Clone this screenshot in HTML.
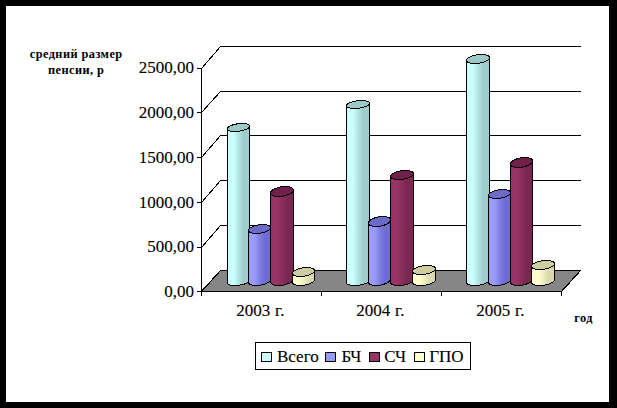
<!DOCTYPE html>
<html><head><meta charset="utf-8"><style>
html,body{margin:0;padding:0;width:617px;height:408px;overflow:hidden;background:#000}
.n{font-family:"Liberation Serif",serif;font-size:17px;fill:#000;stroke:#000;stroke-width:0.12px}
.b{font-family:"Liberation Serif",serif;font-size:12.3px;font-weight:bold;fill:#000;letter-spacing:0.45px}
</style></head><body>
<svg width="617" height="408" viewBox="0 0 617 408" style="position:absolute;left:0;top:0" shape-rendering="crispEdges">
<defs><linearGradient id="g00" gradientUnits="userSpaceOnUse" x1="227.5" y1="0" x2="249.5" y2="0"><stop offset="0" stop-color="#CCFFFF"/><stop offset="0.28" stop-color="#CCFFFF"/><stop offset="0.5" stop-color="#B3E6E6"/><stop offset="0.72" stop-color="#9FCDCD"/><stop offset="1" stop-color="#9FCDCD"/></linearGradient><linearGradient id="g01" gradientUnits="userSpaceOnUse" x1="248.5" y1="0" x2="270.5" y2="0"><stop offset="0" stop-color="#9999FF"/><stop offset="0.28" stop-color="#9999FF"/><stop offset="0.5" stop-color="#8080E4"/><stop offset="0.72" stop-color="#6E6ECF"/><stop offset="1" stop-color="#6E6ECF"/></linearGradient><linearGradient id="g02" gradientUnits="userSpaceOnUse" x1="270.5" y1="0" x2="293.5" y2="0"><stop offset="0" stop-color="#993366"/><stop offset="0.28" stop-color="#993366"/><stop offset="0.5" stop-color="#87305C"/><stop offset="0.72" stop-color="#7A2852"/><stop offset="1" stop-color="#7A2852"/></linearGradient><linearGradient id="g03" gradientUnits="userSpaceOnUse" x1="292.5" y1="0" x2="314.5" y2="0"><stop offset="0" stop-color="#FFFFCC"/><stop offset="0.28" stop-color="#FFFFCC"/><stop offset="0.5" stop-color="#EEEEC0"/><stop offset="0.72" stop-color="#DADAAE"/><stop offset="1" stop-color="#DADAAE"/></linearGradient><linearGradient id="g10" gradientUnits="userSpaceOnUse" x1="346.5" y1="0" x2="369.5" y2="0"><stop offset="0" stop-color="#CCFFFF"/><stop offset="0.28" stop-color="#CCFFFF"/><stop offset="0.5" stop-color="#B3E6E6"/><stop offset="0.72" stop-color="#9FCDCD"/><stop offset="1" stop-color="#9FCDCD"/></linearGradient><linearGradient id="g11" gradientUnits="userSpaceOnUse" x1="368.5" y1="0" x2="390.5" y2="0"><stop offset="0" stop-color="#9999FF"/><stop offset="0.28" stop-color="#9999FF"/><stop offset="0.5" stop-color="#8080E4"/><stop offset="0.72" stop-color="#6E6ECF"/><stop offset="1" stop-color="#6E6ECF"/></linearGradient><linearGradient id="g12" gradientUnits="userSpaceOnUse" x1="390.5" y1="0" x2="413.5" y2="0"><stop offset="0" stop-color="#993366"/><stop offset="0.28" stop-color="#993366"/><stop offset="0.5" stop-color="#87305C"/><stop offset="0.72" stop-color="#7A2852"/><stop offset="1" stop-color="#7A2852"/></linearGradient><linearGradient id="g13" gradientUnits="userSpaceOnUse" x1="412.5" y1="0" x2="435.5" y2="0"><stop offset="0" stop-color="#FFFFCC"/><stop offset="0.28" stop-color="#FFFFCC"/><stop offset="0.5" stop-color="#EEEEC0"/><stop offset="0.72" stop-color="#DADAAE"/><stop offset="1" stop-color="#DADAAE"/></linearGradient><linearGradient id="g20" gradientUnits="userSpaceOnUse" x1="466.5" y1="0" x2="489.5" y2="0"><stop offset="0" stop-color="#CCFFFF"/><stop offset="0.28" stop-color="#CCFFFF"/><stop offset="0.5" stop-color="#B3E6E6"/><stop offset="0.72" stop-color="#9FCDCD"/><stop offset="1" stop-color="#9FCDCD"/></linearGradient><linearGradient id="g21" gradientUnits="userSpaceOnUse" x1="488.5" y1="0" x2="510.5" y2="0"><stop offset="0" stop-color="#9999FF"/><stop offset="0.28" stop-color="#9999FF"/><stop offset="0.5" stop-color="#8080E4"/><stop offset="0.72" stop-color="#6E6ECF"/><stop offset="1" stop-color="#6E6ECF"/></linearGradient><linearGradient id="g22" gradientUnits="userSpaceOnUse" x1="510.5" y1="0" x2="532.5" y2="0"><stop offset="0" stop-color="#993366"/><stop offset="0.28" stop-color="#993366"/><stop offset="0.5" stop-color="#87305C"/><stop offset="0.72" stop-color="#7A2852"/><stop offset="1" stop-color="#7A2852"/></linearGradient><linearGradient id="g23" gradientUnits="userSpaceOnUse" x1="531.5" y1="0" x2="554.5" y2="0"><stop offset="0" stop-color="#FFFFCC"/><stop offset="0.28" stop-color="#FFFFCC"/><stop offset="0.5" stop-color="#EEEEC0"/><stop offset="0.72" stop-color="#DADAAE"/><stop offset="1" stop-color="#DADAAE"/></linearGradient></defs>
<rect x="0" y="0" width="617" height="408" fill="#000"/>
<rect x="6" y="6" width="603" height="396" fill="#fff"/>
<polyline points="197,68.5 201.5,68.5 220.5,46.5 581,46.5" fill="none" stroke="#000" stroke-width="1"/><polyline points="197,112.5 201.5,112.5 220.5,91.5 581,91.5" fill="none" stroke="#000" stroke-width="1"/><polyline points="197,157.5 201.5,157.5 220.5,135.5 581,135.5" fill="none" stroke="#000" stroke-width="1"/><polyline points="197,202.5 201.5,202.5 220.5,180.5 581,180.5" fill="none" stroke="#000" stroke-width="1"/><polyline points="197,247.5 201.5,247.5 220.5,225.5 581,225.5" fill="none" stroke="#000" stroke-width="1"/><line x1="197" y1="291.5" x2="201" y2="291.5" stroke="#000" stroke-width="1"/>
<polygon points="201.5,291.5 220.5,270.5 580.5,270.5 561.5,291.5" fill="#868686" stroke="#000" stroke-width="1.2"/>
<line x1="201.5" y1="68" x2="201.5" y2="296" stroke="#000" stroke-width="1"/>
<line x1="321.5" y1="291" x2="321.5" y2="296" stroke="#000" stroke-width="1"/><line x1="441.5" y1="291" x2="441.5" y2="296" stroke="#000" stroke-width="1"/><line x1="561.5" y1="291" x2="561.5" y2="296" stroke="#000" stroke-width="1"/>
<polygon points="249.50,126.23 249.45,125.86 249.29,125.51 249.03,125.18 248.66,124.87 248.20,124.59 247.65,124.33 247.00,124.11 246.28,123.92 245.48,123.76 244.61,123.64 243.69,123.56 242.71,123.51 241.69,123.50 240.65,123.53 239.58,123.60 238.50,123.71 237.42,123.85 236.35,124.03 235.31,124.24 234.29,124.48 233.31,124.76 232.39,125.05 231.52,125.38 230.72,125.72 230.00,126.08 229.35,126.45 228.80,126.83 228.34,127.22 227.97,127.62 227.71,128.01 227.55,128.39 227.50,128.77 227.50,282.77 227.55,283.14 227.71,283.49 227.97,283.82 228.34,284.13 228.80,284.41 229.35,284.67 230.00,284.89 230.72,285.08 231.52,285.24 232.39,285.36 233.31,285.44 234.29,285.49 235.31,285.50 236.35,285.47 237.42,285.40 238.50,285.29 239.58,285.15 240.65,284.97 241.69,284.76 242.71,284.52 243.69,284.24 244.61,283.95 245.48,283.62 246.28,283.28 247.00,282.92 247.65,282.55 248.20,282.17 248.66,281.78 249.03,281.38 249.29,280.99 249.45,280.61 249.50,280.23" fill="url(#g00)" stroke="#000" stroke-width="1"/>
<polygon points="248.93,127.50 249.30,126.98 249.48,126.46 249.47,125.97 249.28,125.50 248.90,125.06 248.35,124.67 247.63,124.33 246.75,124.04 245.72,123.80 244.58,123.64 243.33,123.53 242.00,123.50 240.61,123.53 239.18,123.64 237.74,123.80 236.32,124.04 234.93,124.33 233.60,124.67 232.36,125.06 231.22,125.50 230.20,125.97 229.33,126.46 228.62,126.98 228.07,127.50 227.70,128.02 227.52,128.54 227.53,129.03 227.72,129.50 228.10,129.94 228.65,130.33 229.37,130.67 230.25,130.96 231.28,131.20 232.42,131.36 233.67,131.47 235.00,131.50 236.39,131.47 237.82,131.36 239.26,131.20 240.68,130.96 242.07,130.67 243.40,130.33 244.64,129.94 245.78,129.50 246.80,129.03 247.67,128.54 248.38,128.02" fill="#9CCACA" stroke="#000" stroke-width="1"/>
<polygon points="270.50,227.57 270.45,227.16 270.29,226.76 270.03,226.39 269.66,226.04 269.20,225.73 268.65,225.44 268.00,225.19 267.28,224.97 266.48,224.79 265.61,224.66 264.69,224.56 263.71,224.51 262.69,224.50 261.65,224.54 260.58,224.61 259.50,224.73 258.42,224.89 257.35,225.10 256.31,225.33 255.29,225.61 254.31,225.91 253.39,226.25 252.52,226.61 251.72,227.00 251.00,227.40 250.35,227.82 249.80,228.25 249.34,228.69 248.97,229.13 248.71,229.57 248.55,230.01 248.50,230.43 248.50,282.43 248.55,282.84 248.71,283.24 248.97,283.61 249.34,283.96 249.80,284.27 250.35,284.56 251.00,284.81 251.72,285.03 252.52,285.21 253.39,285.34 254.31,285.44 255.29,285.49 256.31,285.50 257.35,285.46 258.42,285.39 259.50,285.27 260.58,285.11 261.65,284.90 262.69,284.67 263.71,284.39 264.69,284.09 265.61,283.75 266.48,283.39 267.28,283.00 268.00,282.60 268.65,282.18 269.20,281.75 269.66,281.31 270.03,280.87 270.29,280.43 270.45,279.99 270.50,279.57" fill="url(#g01)" stroke="#000" stroke-width="1"/>
<polygon points="269.93,229.00 270.30,228.41 270.48,227.84 270.47,227.28 270.28,226.75 269.90,226.26 269.35,225.82 268.63,225.43 267.75,225.10 266.72,224.84 265.58,224.65 264.33,224.54 263.00,224.50 261.61,224.54 260.18,224.65 258.74,224.84 257.32,225.10 255.93,225.43 254.60,225.82 253.36,226.26 252.22,226.75 251.20,227.28 250.33,227.84 249.62,228.41 249.07,229.00 248.70,229.59 248.52,230.16 248.53,230.72 248.72,231.25 249.10,231.74 249.65,232.18 250.37,232.57 251.25,232.90 252.28,233.16 253.42,233.35 254.67,233.46 256.00,233.50 257.39,233.46 258.82,233.35 260.26,233.16 261.68,232.90 263.07,232.57 264.40,232.18 265.64,231.74 266.78,231.25 267.80,230.72 268.67,230.16 269.38,229.59" fill="#6C6CC8" stroke="#000" stroke-width="1"/>
<polygon points="293.50,189.98 293.44,189.52 293.28,189.08 293.00,188.66 292.62,188.27 292.14,187.91 291.56,187.59 290.89,187.30 290.13,187.06 289.30,186.85 288.39,186.69 287.42,186.58 286.40,186.52 285.34,186.50 284.24,186.53 283.13,186.61 282.00,186.74 280.87,186.91 279.76,187.13 278.66,187.38 277.60,187.68 276.58,188.02 275.61,188.39 274.70,188.78 273.87,189.21 273.11,189.65 272.44,190.12 271.86,190.60 271.38,191.08 271.00,191.57 270.72,192.06 270.56,192.55 270.50,193.02 270.50,282.02 270.56,282.48 270.72,282.92 271.00,283.34 271.38,283.73 271.86,284.09 272.44,284.41 273.11,284.70 273.87,284.94 274.70,285.15 275.61,285.31 276.58,285.42 277.60,285.48 278.66,285.50 279.76,285.47 280.87,285.39 282.00,285.26 283.13,285.09 284.24,284.87 285.34,284.62 286.40,284.32 287.42,283.98 288.39,283.61 289.30,283.22 290.13,282.79 290.89,282.35 291.56,281.88 292.14,281.40 292.62,280.92 293.00,280.43 293.28,279.94 293.44,279.45 293.50,278.98" fill="url(#g02)" stroke="#000" stroke-width="1"/>
<polygon points="292.95,191.50 293.32,190.85 293.49,190.21 293.46,189.59 293.24,189.00 292.82,188.46 292.22,187.96 291.45,187.53 290.51,187.17 289.43,186.88 288.22,186.67 286.90,186.54 285.50,186.50 284.04,186.54 282.55,186.67 281.04,186.88 279.55,187.17 278.11,187.53 276.73,187.96 275.44,188.46 274.26,189.00 273.22,189.59 272.32,190.21 271.60,190.85 271.05,191.50 270.68,192.15 270.51,192.79 270.54,193.41 270.76,194.00 271.18,194.54 271.78,195.04 272.55,195.47 273.49,195.83 274.57,196.12 275.78,196.33 277.10,196.46 278.50,196.50 279.96,196.46 281.45,196.33 282.96,196.12 284.45,195.83 285.89,195.47 287.27,195.04 288.56,194.54 289.74,194.00 290.78,193.41 291.68,192.79 292.40,192.15" fill="#70204A" stroke="#000" stroke-width="1"/>
<polygon points="314.50,270.57 314.45,270.16 314.29,269.76 314.03,269.39 313.66,269.04 313.20,268.73 312.65,268.44 312.00,268.19 311.28,267.97 310.48,267.79 309.61,267.66 308.69,267.56 307.71,267.51 306.69,267.50 305.65,267.54 304.58,267.61 303.50,267.73 302.42,267.89 301.35,268.10 300.31,268.33 299.29,268.61 298.31,268.91 297.39,269.25 296.52,269.61 295.72,270.00 295.00,270.40 294.35,270.82 293.80,271.25 293.34,271.69 292.97,272.13 292.71,272.57 292.55,273.01 292.50,273.43 292.50,282.43 292.55,282.84 292.71,283.24 292.97,283.61 293.34,283.96 293.80,284.27 294.35,284.56 295.00,284.81 295.72,285.03 296.52,285.21 297.39,285.34 298.31,285.44 299.29,285.49 300.31,285.50 301.35,285.46 302.42,285.39 303.50,285.27 304.58,285.11 305.65,284.90 306.69,284.67 307.71,284.39 308.69,284.09 309.61,283.75 310.48,283.39 311.28,283.00 312.00,282.60 312.65,282.18 313.20,281.75 313.66,281.31 314.03,280.87 314.29,280.43 314.45,279.99 314.50,279.57" fill="url(#g03)" stroke="#000" stroke-width="1"/>
<polygon points="313.93,272.00 314.30,271.41 314.48,270.84 314.47,270.28 314.28,269.75 313.90,269.26 313.35,268.82 312.63,268.43 311.75,268.10 310.72,267.84 309.58,267.65 308.33,267.54 307.00,267.50 305.61,267.54 304.18,267.65 302.74,267.84 301.32,268.10 299.93,268.43 298.60,268.82 297.36,269.26 296.22,269.75 295.20,270.28 294.33,270.84 293.62,271.41 293.07,272.00 292.70,272.59 292.52,273.16 292.53,273.72 292.72,274.25 293.10,274.74 293.65,275.18 294.37,275.57 295.25,275.90 296.28,276.16 297.42,276.35 298.67,276.46 300.00,276.50 301.39,276.46 302.82,276.35 304.26,276.16 305.68,275.90 307.07,275.57 308.40,275.18 309.64,274.74 310.78,274.25 311.80,273.72 312.67,273.16 313.38,272.59" fill="#CDCDA0" stroke="#000" stroke-width="1"/>
<polygon points="369.50,103.28 369.44,102.92 369.28,102.56 369.00,102.23 368.62,101.92 368.14,101.63 367.56,101.37 366.89,101.14 366.13,100.94 365.30,100.78 364.39,100.66 363.42,100.57 362.40,100.51 361.34,100.50 360.24,100.53 359.13,100.59 358.00,100.69 356.87,100.83 355.76,101.00 354.66,101.21 353.60,101.45 352.58,101.71 351.61,102.01 350.70,102.33 349.87,102.67 349.11,103.02 348.44,103.40 347.86,103.78 347.38,104.17 347.00,104.56 346.72,104.95 346.56,105.34 346.50,105.72 346.50,282.72 346.56,283.08 346.72,283.44 347.00,283.77 347.38,284.08 347.86,284.37 348.44,284.63 349.11,284.86 349.87,285.06 350.70,285.22 351.61,285.34 352.58,285.43 353.60,285.49 354.66,285.50 355.76,285.47 356.87,285.41 358.00,285.31 359.13,285.17 360.24,285.00 361.34,284.79 362.40,284.55 363.42,284.29 364.39,283.99 365.30,283.67 366.13,283.33 366.89,282.98 367.56,282.60 368.14,282.22 368.62,281.83 369.00,281.44 369.28,281.05 369.44,280.66 369.50,280.28" fill="url(#g10)" stroke="#000" stroke-width="1"/>
<polygon points="368.95,104.50 369.32,103.98 369.49,103.46 369.46,102.97 369.24,102.50 368.82,102.06 368.22,101.67 367.45,101.33 366.51,101.04 365.43,100.80 364.22,100.64 362.90,100.53 361.50,100.50 360.04,100.53 358.55,100.64 357.04,100.80 355.55,101.04 354.11,101.33 352.73,101.67 351.44,102.06 350.26,102.50 349.22,102.97 348.32,103.46 347.60,103.98 347.05,104.50 346.68,105.02 346.51,105.54 346.54,106.03 346.76,106.50 347.18,106.94 347.78,107.33 348.55,107.67 349.49,107.96 350.57,108.20 351.78,108.36 353.10,108.47 354.50,108.50 355.96,108.47 357.45,108.36 358.96,108.20 360.45,107.96 361.89,107.67 363.27,107.33 364.56,106.94 365.74,106.50 366.78,106.03 367.68,105.54 368.40,105.02" fill="#9CCACA" stroke="#000" stroke-width="1"/>
<polygon points="390.50,219.91 390.45,219.45 390.29,219.01 390.03,218.60 389.66,218.22 389.20,217.86 388.65,217.54 388.00,217.26 387.28,217.02 386.48,216.83 385.61,216.67 384.69,216.57 383.71,216.51 382.69,216.50 381.65,216.54 380.58,216.63 379.50,216.76 378.42,216.94 377.35,217.16 376.31,217.43 375.29,217.73 374.31,218.07 373.39,218.44 372.52,218.85 371.72,219.27 371.00,219.72 370.35,220.19 369.80,220.67 369.34,221.16 368.97,221.65 368.71,222.14 368.55,222.62 368.50,223.09 368.50,282.09 368.55,282.55 368.71,282.99 368.97,283.40 369.34,283.78 369.80,284.14 370.35,284.46 371.00,284.74 371.72,284.98 372.52,285.17 373.39,285.33 374.31,285.43 375.29,285.49 376.31,285.50 377.35,285.46 378.42,285.37 379.50,285.24 380.58,285.06 381.65,284.84 382.69,284.57 383.71,284.27 384.69,283.93 385.61,283.56 386.48,283.15 387.28,282.73 388.00,282.28 388.65,281.81 389.20,281.33 389.66,280.84 390.03,280.35 390.29,279.86 390.45,279.38 390.50,278.91" fill="url(#g11)" stroke="#000" stroke-width="1"/>
<polygon points="389.93,221.50 390.30,220.85 390.48,220.21 390.47,219.59 390.28,219.00 389.90,218.46 389.35,217.96 388.63,217.53 387.75,217.17 386.72,216.88 385.58,216.67 384.33,216.54 383.00,216.50 381.61,216.54 380.18,216.67 378.74,216.88 377.32,217.17 375.93,217.53 374.60,217.96 373.36,218.46 372.22,219.00 371.20,219.59 370.33,220.21 369.62,220.85 369.07,221.50 368.70,222.15 368.52,222.79 368.53,223.41 368.72,224.00 369.10,224.54 369.65,225.04 370.37,225.47 371.25,225.83 372.28,226.12 373.42,226.33 374.67,226.46 376.00,226.50 377.39,226.46 378.82,226.33 380.26,226.12 381.68,225.83 383.07,225.47 384.40,225.04 385.64,224.54 386.78,224.00 387.80,223.41 388.67,222.79 389.38,222.15" fill="#6C6CC8" stroke="#000" stroke-width="1"/>
<polygon points="413.50,173.63 413.44,173.22 413.28,172.82 413.00,172.45 412.62,172.09 412.14,171.77 411.56,171.48 410.89,171.22 410.13,171.00 409.30,170.82 408.39,170.67 407.42,170.57 406.40,170.52 405.34,170.50 404.24,170.53 403.13,170.60 402.00,170.71 400.87,170.87 399.76,171.06 398.66,171.30 397.60,171.56 396.58,171.87 395.61,172.20 394.70,172.56 393.87,172.94 393.11,173.34 392.44,173.76 391.86,174.19 391.38,174.62 391.00,175.07 390.72,175.51 390.56,175.94 390.50,176.37 390.50,282.37 390.56,282.78 390.72,283.18 391.00,283.55 391.38,283.91 391.86,284.23 392.44,284.52 393.11,284.78 393.87,285.00 394.70,285.18 395.61,285.33 396.58,285.43 397.60,285.48 398.66,285.50 399.76,285.47 400.87,285.40 402.00,285.29 403.13,285.13 404.24,284.94 405.34,284.70 406.40,284.44 407.42,284.13 408.39,283.80 409.30,283.44 410.13,283.06 410.89,282.66 411.56,282.24 412.14,281.81 412.62,281.38 413.00,280.93 413.28,280.49 413.44,280.06 413.50,279.63" fill="url(#g12)" stroke="#000" stroke-width="1"/>
<polygon points="412.95,175.00 413.32,174.41 413.49,173.84 413.46,173.28 413.24,172.75 412.82,172.26 412.22,171.82 411.45,171.43 410.51,171.10 409.43,170.84 408.22,170.65 406.90,170.54 405.50,170.50 404.04,170.54 402.55,170.65 401.04,170.84 399.55,171.10 398.11,171.43 396.73,171.82 395.44,172.26 394.26,172.75 393.22,173.28 392.32,173.84 391.60,174.41 391.05,175.00 390.68,175.59 390.51,176.16 390.54,176.72 390.76,177.25 391.18,177.74 391.78,178.18 392.55,178.57 393.49,178.90 394.57,179.16 395.78,179.35 397.10,179.46 398.50,179.50 399.96,179.46 401.45,179.35 402.96,179.16 404.45,178.90 405.89,178.57 407.27,178.18 408.56,177.74 409.74,177.25 410.78,176.72 411.68,176.16 412.40,175.59" fill="#70204A" stroke="#000" stroke-width="1"/>
<polygon points="435.50,268.63 435.44,268.22 435.28,267.82 435.00,267.45 434.62,267.09 434.14,266.77 433.56,266.48 432.89,266.22 432.13,266.00 431.30,265.82 430.39,265.67 429.42,265.57 428.40,265.52 427.34,265.50 426.24,265.53 425.13,265.60 424.00,265.71 422.87,265.87 421.76,266.06 420.66,266.30 419.60,266.56 418.58,266.87 417.61,267.20 416.70,267.56 415.87,267.94 415.11,268.34 414.44,268.76 413.86,269.19 413.38,269.62 413.00,270.07 412.72,270.51 412.56,270.94 412.50,271.37 412.50,282.37 412.56,282.78 412.72,283.18 413.00,283.55 413.38,283.91 413.86,284.23 414.44,284.52 415.11,284.78 415.87,285.00 416.70,285.18 417.61,285.33 418.58,285.43 419.60,285.48 420.66,285.50 421.76,285.47 422.87,285.40 424.00,285.29 425.13,285.13 426.24,284.94 427.34,284.70 428.40,284.44 429.42,284.13 430.39,283.80 431.30,283.44 432.13,283.06 432.89,282.66 433.56,282.24 434.14,281.81 434.62,281.38 435.00,280.93 435.28,280.49 435.44,280.06 435.50,279.63" fill="url(#g13)" stroke="#000" stroke-width="1"/>
<polygon points="434.95,270.00 435.32,269.41 435.49,268.84 435.46,268.28 435.24,267.75 434.82,267.26 434.22,266.82 433.45,266.43 432.51,266.10 431.43,265.84 430.22,265.65 428.90,265.54 427.50,265.50 426.04,265.54 424.55,265.65 423.04,265.84 421.55,266.10 420.11,266.43 418.73,266.82 417.44,267.26 416.26,267.75 415.22,268.28 414.32,268.84 413.60,269.41 413.05,270.00 412.68,270.59 412.51,271.16 412.54,271.72 412.76,272.25 413.18,272.74 413.78,273.18 414.55,273.57 415.49,273.90 416.57,274.16 417.78,274.35 419.10,274.46 420.50,274.50 421.96,274.46 423.45,274.35 424.96,274.16 426.45,273.90 427.89,273.57 429.27,273.18 430.56,272.74 431.74,272.25 432.78,271.72 433.68,271.16 434.40,270.59" fill="#CDCDA0" stroke="#000" stroke-width="1"/>
<polygon points="489.50,57.63 489.44,57.22 489.28,56.82 489.00,56.45 488.62,56.09 488.14,55.77 487.56,55.48 486.89,55.22 486.13,55.00 485.30,54.82 484.39,54.67 483.42,54.57 482.40,54.52 481.34,54.50 480.24,54.53 479.13,54.60 478.00,54.71 476.87,54.87 475.76,55.06 474.66,55.30 473.60,55.56 472.58,55.87 471.61,56.20 470.70,56.56 469.87,56.94 469.11,57.34 468.44,57.76 467.86,58.19 467.38,58.62 467.00,59.07 466.72,59.51 466.56,59.94 466.50,60.37 466.50,282.37 466.56,282.78 466.72,283.18 467.00,283.55 467.38,283.91 467.86,284.23 468.44,284.52 469.11,284.78 469.87,285.00 470.70,285.18 471.61,285.33 472.58,285.43 473.60,285.48 474.66,285.50 475.76,285.47 476.87,285.40 478.00,285.29 479.13,285.13 480.24,284.94 481.34,284.70 482.40,284.44 483.42,284.13 484.39,283.80 485.30,283.44 486.13,283.06 486.89,282.66 487.56,282.24 488.14,281.81 488.62,281.38 489.00,280.93 489.28,280.49 489.44,280.06 489.50,279.63" fill="url(#g20)" stroke="#000" stroke-width="1"/>
<polygon points="488.95,59.00 489.32,58.41 489.49,57.84 489.46,57.28 489.24,56.75 488.82,56.26 488.22,55.82 487.45,55.43 486.51,55.10 485.43,54.84 484.22,54.65 482.90,54.54 481.50,54.50 480.04,54.54 478.55,54.65 477.04,54.84 475.55,55.10 474.11,55.43 472.73,55.82 471.44,56.26 470.26,56.75 469.22,57.28 468.32,57.84 467.60,58.41 467.05,59.00 466.68,59.59 466.51,60.16 466.54,60.72 466.76,61.25 467.18,61.74 467.78,62.18 468.55,62.57 469.49,62.90 470.57,63.16 471.78,63.35 473.10,63.46 474.50,63.50 475.96,63.46 477.45,63.35 478.96,63.16 480.45,62.90 481.89,62.57 483.27,62.18 484.56,61.74 485.74,61.25 486.78,60.72 487.68,60.16 488.40,59.59" fill="#9CCACA" stroke="#000" stroke-width="1"/>
<polygon points="510.50,192.57 510.45,192.16 510.29,191.76 510.03,191.39 509.66,191.04 509.20,190.73 508.65,190.44 508.00,190.19 507.28,189.97 506.48,189.79 505.61,189.66 504.69,189.56 503.71,189.51 502.69,189.50 501.65,189.54 500.58,189.61 499.50,189.73 498.42,189.89 497.35,190.10 496.31,190.33 495.29,190.61 494.31,190.91 493.39,191.25 492.52,191.61 491.72,192.00 491.00,192.40 490.35,192.82 489.80,193.25 489.34,193.69 488.97,194.13 488.71,194.57 488.55,195.01 488.50,195.43 488.50,282.43 488.55,282.84 488.71,283.24 488.97,283.61 489.34,283.96 489.80,284.27 490.35,284.56 491.00,284.81 491.72,285.03 492.52,285.21 493.39,285.34 494.31,285.44 495.29,285.49 496.31,285.50 497.35,285.46 498.42,285.39 499.50,285.27 500.58,285.11 501.65,284.90 502.69,284.67 503.71,284.39 504.69,284.09 505.61,283.75 506.48,283.39 507.28,283.00 508.00,282.60 508.65,282.18 509.20,281.75 509.66,281.31 510.03,280.87 510.29,280.43 510.45,279.99 510.50,279.57" fill="url(#g21)" stroke="#000" stroke-width="1"/>
<polygon points="509.93,194.00 510.30,193.41 510.48,192.84 510.47,192.28 510.28,191.75 509.90,191.26 509.35,190.82 508.63,190.43 507.75,190.10 506.72,189.84 505.58,189.65 504.33,189.54 503.00,189.50 501.61,189.54 500.18,189.65 498.74,189.84 497.32,190.10 495.93,190.43 494.60,190.82 493.36,191.26 492.22,191.75 491.20,192.28 490.33,192.84 489.62,193.41 489.07,194.00 488.70,194.59 488.52,195.16 488.53,195.72 488.72,196.25 489.10,196.74 489.65,197.18 490.37,197.57 491.25,197.90 492.28,198.16 493.42,198.35 494.67,198.46 496.00,198.50 497.39,198.46 498.82,198.35 500.26,198.16 501.68,197.90 503.07,197.57 504.40,197.18 505.64,196.74 506.78,196.25 507.80,195.72 508.67,195.16 509.38,194.59" fill="#6C6CC8" stroke="#000" stroke-width="1"/>
<polygon points="532.50,160.91 532.45,160.45 532.29,160.01 532.03,159.60 531.66,159.22 531.20,158.86 530.65,158.54 530.00,158.26 529.28,158.02 528.48,157.83 527.61,157.67 526.69,157.57 525.71,157.51 524.69,157.50 523.65,157.54 522.58,157.63 521.50,157.76 520.42,157.94 519.35,158.16 518.31,158.43 517.29,158.73 516.31,159.07 515.39,159.44 514.52,159.85 513.72,160.27 513.00,160.72 512.35,161.19 511.80,161.67 511.34,162.16 510.97,162.65 510.71,163.14 510.55,163.62 510.50,164.09 510.50,282.09 510.55,282.55 510.71,282.99 510.97,283.40 511.34,283.78 511.80,284.14 512.35,284.46 513.00,284.74 513.72,284.98 514.52,285.17 515.39,285.33 516.31,285.43 517.29,285.49 518.31,285.50 519.35,285.46 520.42,285.37 521.50,285.24 522.58,285.06 523.65,284.84 524.69,284.57 525.71,284.27 526.69,283.93 527.61,283.56 528.48,283.15 529.28,282.73 530.00,282.28 530.65,281.81 531.20,281.33 531.66,280.84 532.03,280.35 532.29,279.86 532.45,279.38 532.50,278.91" fill="url(#g22)" stroke="#000" stroke-width="1"/>
<polygon points="531.93,162.50 532.30,161.85 532.48,161.21 532.47,160.59 532.28,160.00 531.90,159.46 531.35,158.96 530.63,158.53 529.75,158.17 528.72,157.88 527.58,157.67 526.33,157.54 525.00,157.50 523.61,157.54 522.18,157.67 520.74,157.88 519.32,158.17 517.93,158.53 516.60,158.96 515.36,159.46 514.22,160.00 513.20,160.59 512.33,161.21 511.62,161.85 511.07,162.50 510.70,163.15 510.52,163.79 510.53,164.41 510.72,165.00 511.10,165.54 511.65,166.04 512.37,166.47 513.25,166.83 514.28,167.12 515.42,167.33 516.67,167.46 518.00,167.50 519.39,167.46 520.82,167.33 522.26,167.12 523.68,166.83 525.07,166.47 526.40,166.04 527.64,165.54 528.78,165.00 529.80,164.41 530.67,163.79 531.38,163.15" fill="#70204A" stroke="#000" stroke-width="1"/>
<polygon points="554.50,263.63 554.44,263.22 554.28,262.82 554.00,262.45 553.62,262.09 553.14,261.77 552.56,261.48 551.89,261.22 551.13,261.00 550.30,260.82 549.39,260.67 548.42,260.57 547.40,260.52 546.34,260.50 545.24,260.53 544.13,260.60 543.00,260.71 541.87,260.87 540.76,261.06 539.66,261.30 538.60,261.56 537.58,261.87 536.61,262.20 535.70,262.56 534.87,262.94 534.11,263.34 533.44,263.76 532.86,264.19 532.38,264.62 532.00,265.07 531.72,265.51 531.56,265.94 531.50,266.37 531.50,282.37 531.56,282.78 531.72,283.18 532.00,283.55 532.38,283.91 532.86,284.23 533.44,284.52 534.11,284.78 534.87,285.00 535.70,285.18 536.61,285.33 537.58,285.43 538.60,285.48 539.66,285.50 540.76,285.47 541.87,285.40 543.00,285.29 544.13,285.13 545.24,284.94 546.34,284.70 547.40,284.44 548.42,284.13 549.39,283.80 550.30,283.44 551.13,283.06 551.89,282.66 552.56,282.24 553.14,281.81 553.62,281.38 554.00,280.93 554.28,280.49 554.44,280.06 554.50,279.63" fill="url(#g23)" stroke="#000" stroke-width="1"/>
<polygon points="553.95,265.00 554.32,264.41 554.49,263.84 554.46,263.28 554.24,262.75 553.82,262.26 553.22,261.82 552.45,261.43 551.51,261.10 550.43,260.84 549.22,260.65 547.90,260.54 546.50,260.50 545.04,260.54 543.55,260.65 542.04,260.84 540.55,261.10 539.11,261.43 537.73,261.82 536.44,262.26 535.26,262.75 534.22,263.28 533.32,263.84 532.60,264.41 532.05,265.00 531.68,265.59 531.51,266.16 531.54,266.72 531.76,267.25 532.18,267.74 532.78,268.18 533.55,268.57 534.49,268.90 535.57,269.16 536.78,269.35 538.10,269.46 539.50,269.50 540.96,269.46 542.45,269.35 543.96,269.16 545.45,268.90 546.89,268.57 548.27,268.18 549.56,267.74 550.74,267.25 551.78,266.72 552.68,266.16 553.40,265.59" fill="#CDCDA0" stroke="#000" stroke-width="1"/>
<text x="194" y="72.8" text-anchor="end" class="n">2500,00</text>
<text x="194" y="117.8" text-anchor="end" class="n">2000,00</text>
<text x="194" y="162.8" text-anchor="end" class="n">1500,00</text>
<text x="194" y="207.8" text-anchor="end" class="n">1000,00</text>
<text x="194" y="251.8" text-anchor="end" class="n">500,00</text>
<text x="194" y="296.8" text-anchor="end" class="n">0,00</text>
<text x="260.4" y="316.3" text-anchor="middle" class="n" word-spacing="0.5">2003 г.</text>
<text x="380.4" y="316.3" text-anchor="middle" class="n" word-spacing="0.5">2004 г.</text>
<text x="500.4" y="316.3" text-anchor="middle" class="n" word-spacing="0.5">2005 г.</text>
<text x="76.2" y="58.3" text-anchor="middle" class="b">средний размер</text>
<text x="76.2" y="74" text-anchor="middle" class="b">пенсии, р</text>
<text x="583.7" y="322" text-anchor="middle" class="b">год</text>
<rect x="255.5" y="342.5" width="215" height="27" fill="#fff" stroke="#000" stroke-width="1"/>
<rect x="261.5" y="352.5" width="10" height="9" fill="#CCFFFF" stroke="#000" stroke-width="1"/>
<text x="277.0" y="361.6" class="n">Всего</text>
<rect x="325.5" y="352.5" width="10" height="9" fill="#9999FF" stroke="#000" stroke-width="1"/>
<text x="341.4" y="361.6" class="n">БЧ</text>
<rect x="369.5" y="352.5" width="10" height="9" fill="#993366" stroke="#000" stroke-width="1"/>
<text x="384.2" y="361.6" class="n">СЧ</text>
<rect x="414.5" y="352.5" width="10" height="9" fill="#FFFFCC" stroke="#000" stroke-width="1"/>
<text x="429.2" y="361.6" class="n">ГПО</text>
</svg>
</body></html>
